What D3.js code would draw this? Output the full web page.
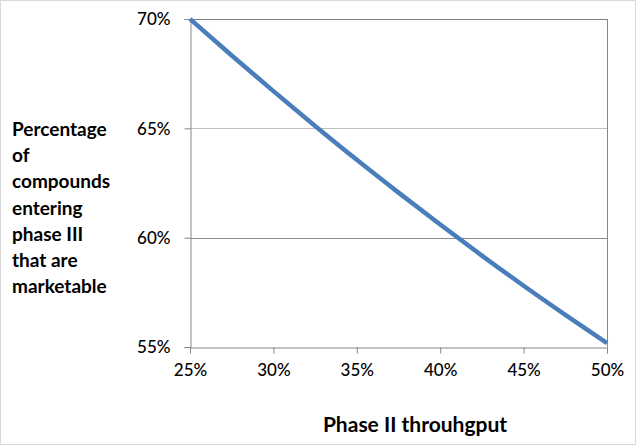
<!DOCTYPE html>
<html>
<head>
<meta charset="utf-8">
<script src="https://cdn.jsdelivr.net/npm/d3@7"></script>
<style>
  html, body { margin: 0; padding: 0; background: #fff; }
  svg { display: block; }
  text { font-family: Lato, "Open Sans", sans-serif; }
</style>
</head>
<body>
<script>
// Data
const throughput = [0.25, 0.275, 0.30, 0.325, 0.35, 0.375, 0.40, 0.425, 0.45, 0.475, 0.50];
const marketable = [0.7000, 0.6833, 0.6670, 0.6511, 0.6356, 0.6206, 0.6060, 0.5918, 0.5780, 0.5647, 0.5518];
const xTicks = [0.25, 0.30, 0.35, 0.40, 0.45, 0.50];
const yTicks = [0.55, 0.60, 0.65, 0.70];
const yTitleLines = ["Percentage", "of", "compounds", "entering", "phase III", "that are", "marketable"];
const xTitle = "Phase II throuhgput";

const W = 636, H = 445;
const svg = d3.select("body").append("svg").attr("width", W).attr("height", H);

// outer border
svg.append("rect").attr("x", 0.5).attr("y", 0.5).attr("width", W - 1).attr("height", H - 1)
  .attr("fill", "#fff").attr("stroke", "#d9d9d9");

const L = 190, R = 607, T = 19, B = 347;
const x = d3.scaleLinear().domain([0.25, 0.50]).range([L, R]);
const y = d3.scaleLinear().domain([0.55, 0.70]).range([B, T]);
const pct = d3.format(".0%");

// gridlines
svg.append("g").selectAll("line").data(yTicks.filter(d => d > 0.55 && d < 0.70)).join("line")
  .attr("x1", L).attr("x2", R)
  .attr("y1", d => Math.round(y(d)) + 0.5).attr("y2", d => Math.round(y(d)) + 0.5)
  .attr("stroke", (d) => d === 0.60 ? "#8c8c8c" : "#c0c0c0").attr("stroke-width", 1);

// plot border (top & right)
svg.append("line").attr("x1", L).attr("x2", R).attr("y1", T + 0.5).attr("y2", T + 0.5).attr("stroke", "#7f7f7f");
svg.append("line").attr("x1", R + 0.5).attr("x2", R + 0.5).attr("y1", T).attr("y2", B).attr("stroke", "#868686");

// axes
const xAxis = d3.axisBottom(x).tickValues(xTicks).tickFormat(pct).tickSize(6).tickPadding(8);
const gx = svg.append("g").attr("transform", `translate(0,${B + 0.5})`).call(xAxis);
const yAxis = d3.axisLeft(y).tickValues(yTicks).tickFormat(pct).tickSize(6).tickPadding(14);
const gy = svg.append("g").attr("transform", `translate(${L + 0.5},0)`).call(yAxis);

[gx, gy].forEach(g => {
  g.select(".domain").attr("stroke", "#868686");
  g.selectAll(".tick line").attr("stroke", "#868686");
  g.selectAll(".tick text").attr("fill", "#000").attr("font-size", 17)
    .style("font-family", "Lato, sans-serif").style("font-weight", 500);
});
gx.selectAll(".tick text").attr("dy", "0.85em");
gy.selectAll(".tick text").attr("dy", "0.35em");

// line
const line = d3.line().x((d, i) => x(throughput[i])).y(d => y(d)).curve(d3.curveMonotoneX);
svg.append("path").datum(marketable).attr("d", line)
  .attr("fill", "none").attr("stroke", "#4a7ebb").attr("stroke-width", 4.5)
  .attr("stroke-linecap", "butt");

// y title
const yt = svg.append("text").attr("x", 12).attr("y", 136)
  .attr("font-size", 19).attr("font-weight", "bold").attr("fill", "#000");
yTitleLines.forEach((s, i) => {
  yt.append("tspan").attr("x", 12).attr("y", 136 + i * 26.2).text(s);
});

// x title
svg.append("text").attr("x", 415).attr("y", 432).attr("text-anchor", "middle")
  .attr("font-size", 21).attr("font-weight", "bold").attr("fill", "#000").text(xTitle);
</script>
</body>
</html>
